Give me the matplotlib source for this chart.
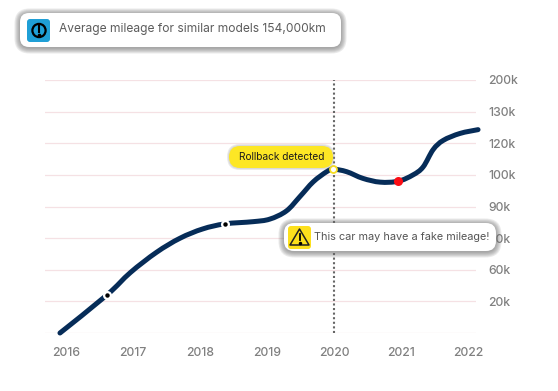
import numpy as np
import matplotlib
matplotlib.use('Agg')
import matplotlib.pyplot as plt
from matplotlib.patches import FancyBboxPatch, Circle, Polygon, PathPatch
from matplotlib.path import Path

# y ticks are evenly spaced on screen although the values are not
y_ticks = [0, 20, 60, 80, 90, 100, 120, 130, 200]
y_tick_labels = ['', '20k', '60k', '80k', '90k', '100k', '120k', '130k', '200k']
x_ticks = [2016, 2017, 2018, 2019, 2020, 2021, 2022]

years = [2015.91, 2016.61, 2016.96, 2017.35, 2017.70, 2018.04, 2018.37, 2018.79, 2019.04, 2019.29, 2019.49,
         2019.69, 2019.89, 2019.99, 2020.19, 2020.43, 2020.69, 2020.96, 2021.18, 2021.33, 2021.48, 2021.63,
         2021.88, 2022.15]
mileage = [0, 28, 56.4, 71, 79.9, 82.9, 84.5, 85.2, 86, 88.6, 93.1,
           97.8, 102, 103.6, 102, 98.9, 97.7, 98, 100, 105, 116, 120.9,
           123.1, 124.3]

check_year = 2020
rollback_year = 2019.99
rollback_value = 103.6
drop_year = 2020.96
drop_value = 98
dot_years = [2016.61, 2018.37]
dot_values = [28, 84.5]


def forward(v):
    return np.interp(v, y_ticks, np.arange(len(y_ticks)))


def inverse(p):
    return np.interp(p, np.arange(len(y_ticks)), y_ticks)


plt.rcParams['font.family'] = ['Inter', 'DejaVu Sans']
fig = plt.figure(figsize=(5.58, 3.91), dpi=100)
ax = fig.add_axes([45 / 558, 1 - 333 / 391, 431 / 558, 253 / 391])
ax.set_yscale('function', functions=(forward, inverse))
ax.set_xlim(2016 - 21 / 67, 2016 + 410 / 67)
ax.set_ylim(0, 200)
ax.set_yticks(y_ticks)
ax.set_yticklabels(y_tick_labels, fontsize=8.8, color='#808080', fontweight='medium')
ax.set_xticks(x_ticks)
ax.set_xticklabels(x_ticks, fontsize=8.8, color='#808080', fontweight='medium')
ax.yaxis.tick_right()
ax.minorticks_off()
ax.tick_params(length=0)
ax.tick_params(axis='y', pad=8.6)
ax.tick_params(axis='x', pad=10)
ax.grid(axis='y', color='#f5e1e4', lw=0.9)
ax.set_axisbelow(True)
for s in ax.spines.values():
    s.set_visible(False)

ax.plot([check_year, check_year], [0, 200], color='#666666', lw=1.5, ls=(0, (1, 1.2)), clip_on=False, zorder=2)

# smooth line through the read points, catmull-rom as bezier in screen coords
pts = ax.transData.transform(np.column_stack([years, mileage]))
verts = [pts[0]]
codes = [Path.MOVETO]
for i in range(len(pts) - 1):
    p0 = pts[max(i - 1, 0)]
    p3 = pts[min(i + 2, len(pts) - 1)]
    verts += [pts[i] + (pts[i + 1] - p0) / 6, pts[i + 1] - (p3 - pts[i]) / 6, pts[i + 1]]
    codes += [Path.CURVE4] * 3
ax.add_patch(PathPatch(Path(verts, codes), transform=None, fc='none', ec='#062c58', lw=3.6,
                       capstyle='round', joinstyle='round', clip_on=False, zorder=3))

ax.plot(dot_years, dot_values, 'o', color='white', ms=6.5, mew=0, zorder=4)
ax.plot(dot_years, dot_values, 'o', color='black', ms=3.2, mew=0, zorder=5)
ax.plot([rollback_year], [rollback_value], 'o', color='white', ms=5, mec='#f7dd1e', mew=1.3, zorder=4)
ax.plot([drop_year], [drop_value], 'o', color='#fb0d14', ms=6.5, mew=0, zorder=4)

# callouts drawn in pixel coords on top of the chart
ov = fig.add_axes([0, 0, 1, 1])
ov.set_xlim(0, 558)
ov.set_ylim(391, 0)
ov.axis('off')
ov.patch.set_alpha(0)


def pill(x, y, w, h, r, color='white', shadow=True):
    if shadow:
        for grow in [6, 5, 4, 3, 2, 1]:
            ov.add_patch(FancyBboxPatch((x - grow + 0.5, y - grow + 1.5), w + 2 * grow - 1, h + 2 * grow - 1,
                                        boxstyle='round,pad=0,rounding_size=%g' % (r + grow),
                                        fc='#666666', ec='none', alpha=0.13))
    ov.add_patch(FancyBboxPatch((x, y), w, h, boxstyle='round,pad=0,rounding_size=%g' % r, fc=color, ec='none'))


pill(20, 13, 321, 34, 9)
ov.add_patch(FancyBboxPatch((27, 19), 23, 23, boxstyle='round,pad=0,rounding_size=3', fc='#1f9fd6', ec='none'))
ov.add_patch(Circle((39, 30.5), 6.6, fc='none', ec='black', lw=1.6))
ov.plot([39, 39], [26, 31.5], color='black', lw=1.5)
ov.plot([39], [34.5], 'o', color='black', ms=1.6)
ov.text(59, 29, 'Average mileage for similar models 154,000km', fontsize=8.65, color='#5c5c5c', va='center')

for grow in [2, 1]:
    ov.add_patch(FancyBboxPatch((229 - grow, 146 - grow), 104 + 2 * grow, 22 + 2 * grow,
                                boxstyle='round,pad=0,rounding_size=%g' % (11 + grow),
                                fc='#999999', ec='none', alpha=0.2))
pill(229, 146, 104, 22, 11, color='#fde725', shadow=False)
ov.text(282, 156.5, 'Rollback detected', fontsize=7.3, color='#1c1c1c', va='center', ha='center')

pill(284, 223, 212, 28, 10)
ov.add_patch(FancyBboxPatch((288, 226), 23, 23, boxstyle='round,pad=0,rounding_size=3', fc='#fde01c', ec='none'))
ov.add_patch(Polygon([[299.5, 229], [309, 245], [290, 245]], closed=True, fc='none', ec='#222222', lw=1.1, joinstyle='round'))
ov.plot([299.5, 299.5], [234, 240], color='black', lw=1.3)
ov.plot([299.5], [243], 'o', color='black', ms=1.5)
ov.text(314, 237, 'This car may have a fake mileage!', fontsize=7.85, color='#555555', va='center')

fig.savefig('out.png', dpi=100)
